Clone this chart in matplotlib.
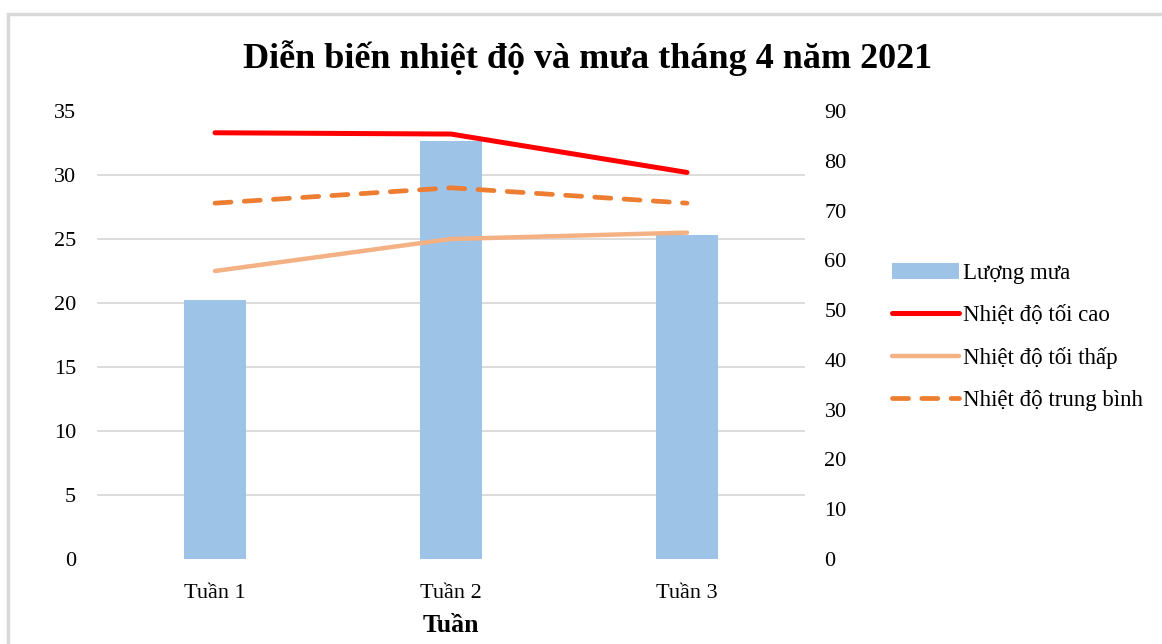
import matplotlib
matplotlib.use("Agg")
import matplotlib.pyplot as plt
from matplotlib.patches import Rectangle
import numpy as np

categories = ["Tuần 1", "Tuần 2", "Tuần 3"]
rain = [52, 84, 65]
t_max = [33.3, 33.2, 30.2]
t_min = [22.5, 25.0, 25.5]
t_avg = [27.8, 29.0, 27.8]

plt.rcParams['font.family'] = ['Liberation Serif', 'DejaVu Serif']

W, H = 1162, 644
fig = plt.figure(figsize=(W / 100, H / 100), dpi=100)
fig.patches.append(Rectangle((8 / W, -0.2), 1.2, 1.2 - 14 / H, transform=fig.transFigure,
                             fill=False, edgecolor='#d9d9d9', linewidth=2.5))

ax = fig.add_axes([97 / W, 1 - 559 / H, (805 - 97) / W, (559 - 111) / H])
x = np.arange(len(categories))
ax.bar(x, rain, width=0.26, color='#9DC3E6', zorder=2, label='Lượng mưa')
ax.set_ylim(0, 90)
ax.set_xlim(-0.5, 2.5)
ax.set_yticks(np.arange(0, 91, 10))
ax.set_yticks(np.arange(0, 91, 90 / 7), minor=True)
ax.grid(which='minor', axis='y', color='#d9d9d9', linewidth=1.3, zorder=0)
ax.set_axisbelow(True)
ax.set_xticks(x)
ax.set_xticklabels(categories)
for s in ax.spines.values():
    s.set_visible(False)
ax.set_xlabel('Tuần', fontsize=18.5, fontweight='bold', labelpad=8)

ax2 = ax.twinx()
ax2.set_ylim(0, 35)
ax2.set_yticks(np.arange(0, 36, 5))
for s in ax2.spines.values():
    s.set_visible(False)
ax2.plot(x, t_max, color='#FF0000', lw=3.6, solid_capstyle='round', label='Nhiệt độ tối cao')
ax2.plot(x, t_min, color='#F4B183', lw=3.2, solid_capstyle='round', label='Nhiệt độ tối thấp')
ax2.plot(x, t_avg, color='#ED7D31', lw=3.4, linestyle=(0, (3.4, 2.8)), dash_capstyle='round',
         label='Nhiệt độ trung bình')

# axis sides: rain on the right, temperature on the left
ax.yaxis.tick_right()
ax2.yaxis.tick_left()
ax.tick_params(axis='y', which='both', length=0, labelsize=16, pad=14)
ax.tick_params(axis='x', length=0, labelsize=16, pad=18)
ax2.tick_params(axis='y', length=0, labelsize=16, pad=15)

h1, l1 = ax.get_legend_handles_labels()
h2, l2 = ax2.get_legend_handles_labels()
fig.legend(h1 + h2, l1 + l2, loc='upper left', bbox_to_anchor=(883 / W, 1 - 254 / H),
           frameon=False, fontsize=16.5, handlelength=2.9, handletextpad=0.2,
           labelspacing=0.91, borderaxespad=0)

fig.text(588 / W, 1 - 58 / H, 'Diễn biến nhiệt độ và mưa tháng 4 năm 2021',
         ha='center', va='center', fontsize=26, fontweight='bold')

fig.savefig('out.png', dpi=100)
